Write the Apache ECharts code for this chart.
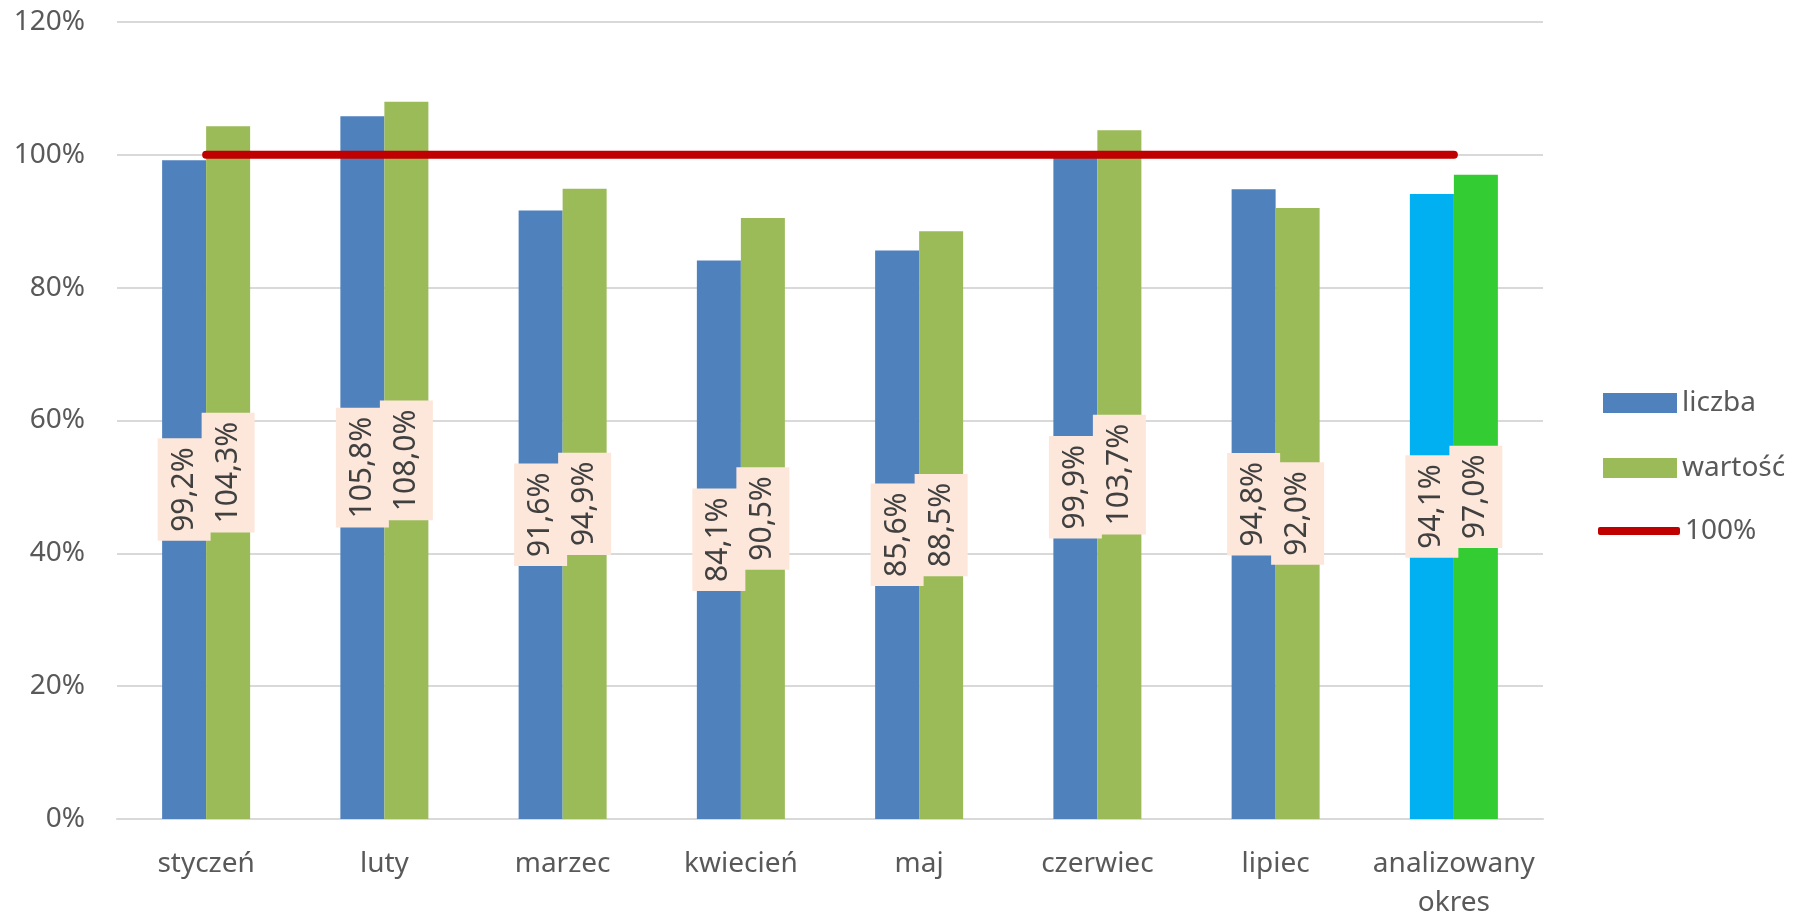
<!DOCTYPE html>
<html>
<head>
<meta charset="utf-8">
<script src="https://cdn.jsdelivr.net/npm/echarts@6/dist/echarts.min.js"></script>
<style>html,body{margin:0;padding:0;background:#fff;}#c{width:1811px;height:923px;}</style>
</head>
<body>
<div id="c"></div>
<script>
const categories = ['styczeń', 'luty', 'marzec', 'kwiecień', 'maj', 'czerwiec', 'lipiec', 'analizowany\nokres'];
const liczba = [99.2, 105.8, 91.6, 84.1, 85.6, 99.9, 94.8, 94.1];
const wartosc = [104.3, 108.0, 94.9, 90.5, 88.5, 103.7, 92.0, 97.0];
const target = [100, 100, 100, 100, 100, 100, 100, 100];
const yTicks = { min: 0, max: 120, interval: 20 };

const FONT = 'Noto Sans';
const last = categories.length - 1;
function mk(arr, lastColor) {
  return arr.map((v, i) => i === last ? { value: v, itemStyle: { color: lastColor } } : v);
}
const labelCfg = {
  show: true, position: 'inside', rotate: 90,
  formatter: p => p.value.toFixed(1).replace('.', ',') + '%',
  fontFamily: FONT, fontSize: 30, color: '#404040',
  backgroundColor: '#FCE7DA', padding: [10, 9], lineHeight: 33
};
const legendText = { fontFamily: FONT, fontSize: 28, color: '#595959' };
const chart = echarts.init(document.getElementById('c'));
chart.setOption({
  backgroundColor: '#ffffff',
  animation: false,
  textStyle: { fontFamily: FONT },
  grid: { left: 117, right: 268, top: 22, bottom: 101, containLabel: false },
  legend: [{
    orient: 'vertical', left: 1598, top: 384,
    itemWidth: 74, itemHeight: 20, itemGap: 37, icon: 'rect',
    textStyle: legendText,
    data: ['liczba', 'wartość']
  }, {
    orient: 'vertical', left: 1593, top: 512,
    itemWidth: 82, itemHeight: 8, icon: 'roundRect',
    itemStyle: { color: '#C00000' },
    textStyle: legendText,
    data: ['100%']
  }],
  xAxis: {
    type: 'category', data: categories,
    axisTick: { show: false },
    axisLine: { lineStyle: { color: '#D9D9D9', width: 2 } },
    axisLabel: { fontFamily: FONT, fontSize: 28, color: '#595959', margin: 26, lineHeight: 39, interval: 0 }
  },
  yAxis: {
    type: 'value', min: yTicks.min, max: yTicks.max, interval: yTicks.interval,
    axisLine: { show: false }, axisTick: { show: false },
    splitLine: { lineStyle: { color: '#D9D9D9', width: 2 } },
    axisLabel: { formatter: '{value}%', fontFamily: FONT, fontSize: 28, color: '#595959', margin: 32 }
  },
  series: [
    { name: 'liczba', type: 'bar', barWidth: 44, barGap: '0%', itemStyle: { color: '#4F81BD' },
      data: mk(liczba, '#00B0F0'), label: labelCfg, z: 2 },
    { name: 'wartość', type: 'bar', barWidth: 44, barGap: '0%', itemStyle: { color: '#9BBB59' },
      data: mk(wartosc, '#33CC33'), label: labelCfg, z: 2 },
    { name: '100%', type: 'line', data: target, symbol: 'none', showSymbol: false,
      lineStyle: { color: '#C00000', width: 8, cap: 'round' }, itemStyle: { color: '#C00000' }, z: 5 }
  ]
});
</script>
</body>
</html>
